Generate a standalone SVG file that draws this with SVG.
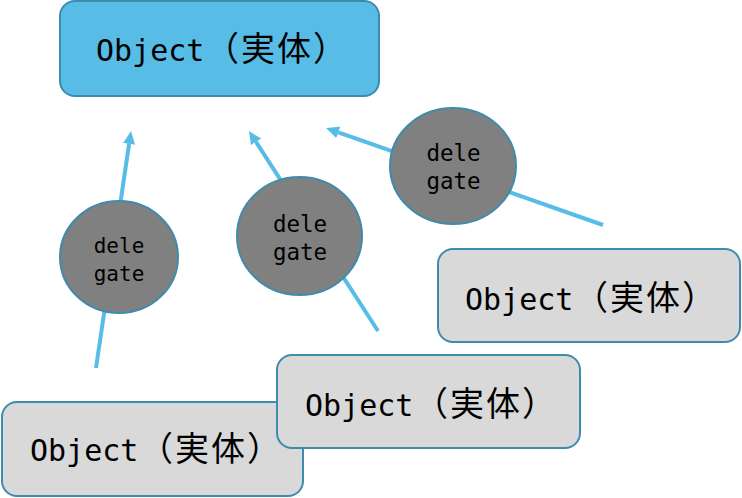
<svg xmlns="http://www.w3.org/2000/svg" width="742" height="498" viewBox="0 0 742 498">
<style>
.obj{stroke:#3F8BAD;stroke-width:2}
.blue{fill:#57BDE7}
.gray{fill:#D9D9D9}
.lbl{font-family:"DejaVu Sans Mono","Liberation Mono",monospace;font-size:30px;fill:#000}
.cjk{font-family:"Noto Sans CJK JP","Noto Sans CJK SC",sans-serif;font-size:34px;text-spacing-trim:space-all}
.del{fill:#808080;stroke:#3F8BAD;stroke-width:2}
.dt{font-family:"DejaVu Sans Mono","Liberation Mono",monospace;font-size:21px;fill:#000;text-anchor:middle}
.dt2{font-size:22.5px}
.con{stroke:#57BDE7;stroke-width:4;fill:none;marker-end:url(#ah)}
</style>
<defs>
<marker id="ah" markerUnits="userSpaceOnUse" viewBox="0 0 14 14" markerWidth="14" markerHeight="14" refX="0" refY="7" orient="auto">
<path d="M0,1 L13,7 L0,13 z" fill="#57BDE7"/>
</marker>
</defs>
<g id="connectors">
<line class="con" x1="96" y1="368" x2="129.1" y2="143.9"/>
<line class="con" x1="378" y1="331" x2="256" y2="141.9"/>
<line class="con" x1="603" y1="225" x2="338.3" y2="132.3"/>
</g>
<g id="obj-top">
<rect class="obj blue" x="60" y="1" width="319" height="95" rx="15"/>
<text class="lbl" x="96" y="61">Object<tspan class="cjk" x="205">（</tspan><tspan class="cjk" x="241">実</tspan><tspan class="cjk" x="277">体</tspan><tspan class="cjk" x="313">）</tspan></text>
</g>
<g id="obj-right">
<rect class="obj gray" x="438" y="249" width="302" height="93" rx="15"/>
<text class="lbl" x="465" y="310">Object<tspan class="cjk" x="574">（</tspan><tspan class="cjk" x="610">実</tspan><tspan class="cjk" x="646">体</tspan><tspan class="cjk" x="682">）</tspan></text>
</g>
<g id="obj-bottom-left">
<rect class="obj gray" x="2" y="402" width="301" height="94" rx="15"/>
<text class="lbl" x="30" y="461">Object<tspan class="cjk" x="139">（</tspan><tspan class="cjk" x="175">実</tspan><tspan class="cjk" x="211">体</tspan><tspan class="cjk" x="247">）</tspan></text>
</g>
<g id="obj-middle">
<rect class="obj gray" x="277" y="355" width="303" height="93" rx="15"/>
<text class="lbl" x="305" y="416">Object<tspan class="cjk" x="414">（</tspan><tspan class="cjk" x="450">実</tspan><tspan class="cjk" x="486">体</tspan><tspan class="cjk" x="522">）</tspan></text>
</g>
<g id="delegate-left">
<ellipse class="del" cx="119" cy="257" rx="59" ry="56"/>
<text class="dt" x="119" y="253">dele</text>
<text class="dt" x="119" y="281">gate</text>
</g>
<g id="delegate-middle">
<ellipse class="del" cx="299.5" cy="236" rx="62.5" ry="59"/>
<text class="dt dt2" x="300" y="232">dele</text>
<text class="dt dt2" x="300" y="260">gate</text>
</g>
<g id="delegate-right">
<ellipse class="del" cx="453" cy="166" rx="63" ry="58"/>
<text class="dt dt2" x="453.5" y="161">dele</text>
<text class="dt dt2" x="453.5" y="189">gate</text>
</g>
</svg>
